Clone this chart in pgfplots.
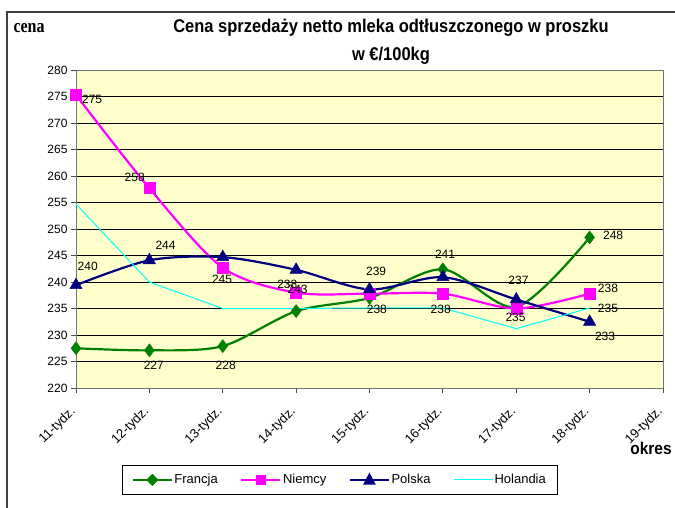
\documentclass[border=0pt]{standalone}
\usepackage{pgfplots}
\pgfplotsset{compat=1.18}
\usepackage{fontspec}
\setmainfont{Liberation Sans}
\newfontfamily\serifb{Liberation Serif}
\definecolor{plotbg}{HTML}{FFFFCC}
\definecolor{fr}{HTML}{008000}
\definecolor{de}{HTML}{FF00FF}
\definecolor{pl}{HTML}{000080}
\definecolor{nl}{HTML}{00FFFF}
\pgfplotstableread{
x y
0 227.5
1 227.1
2 227.9
3 234.5
4 237.0
5 242.4
6 235.3
7 248.4
}\francja
\pgfplotstableread{
x y
0 275.3
1 257.7
2 242.7
3 238.0
4 237.8
5 237.8
6 235.0
7 237.8
}\niemcy
\pgfplotstableread{
x y
0 239.4
1 244.1
2 244.7
3 242.3
4 238.6
5 240.9
6 236.7
7 232.5
}\polska
\pgfplotstableread{
x y
0 254.7
1 240.0
2 235.0
3 235.0
4 235.1
5 235.1
6 231.2
7 235.1
}\holandia
\pgfplotstableread{
x y l
0.22 274.4 275
0.80 259.7 258
0.16 243.0 240
1.22 246.9 244
1.99 240.5 245
2.88 239.6 238
3.02 238.6 243
1.06 224.3 227
2.04 224.3 228
4.09 242.1 239
4.10 234.9 238
5.03 245.2 241
4.97 234.9 238
6.03 240.4 237
5.99 233.3 235
7.32 248.8 248
7.25 238.8 238
7.25 235.0 235
7.21 229.8 233
}\labels
\begin{document}
\begin{tikzpicture}
\useasboundingbox (0pt,0pt) rectangle (675pt,-507pt);
\fill[white] (0pt,0pt) rectangle (675pt,-507pt);
\draw[line width=1.8pt, black!75] (7pt,-510pt) -- (7pt,-12pt) -- (680pt,-12pt);
\begin{axis}[
  at={(76pt,-388pt)}, anchor=south west,
  scale only axis, width=587pt, height=318pt,
  xmin=0, xmax=8, ymin=220, ymax=280,
  xtick={0,...,8},
  xticklabels={11-tydz.,12-tydz.,13-tydz.,14-tydz.,15-tydz.,16-tydz.,17-tydz.,18-tydz.,19-tydz.},
  ytick={220,225,...,280},
  xtick pos=left, ytick pos=left,
  tick align=outside,
  major tick length=5pt,
  tick style={black!70, line width=0.8pt},
  axis line style={black!55, line width=1pt},
  ymajorgrids,
  major grid style={black, line width=0.7pt},
  axis background/.style={fill=plotbg},
  /pgf/number format/assume math mode=true,
  y tick label style={font=\fontsize{12}{12}\selectfont},
  xticklabel shift=14pt,
  x tick label style={font=\fontsize{13}{13}\selectfont, rotate=45, anchor=east},
  clip=false,
  legend style={at={(0.449,-0.289)}, anchor=center, legend columns=4, draw=black,
    font=\fontsize{13}{15}\selectfont, inner xsep=10pt, inner ysep=7pt,
    nodes={inner xsep=1.5pt, inner ysep=2pt},
    /tikz/every even column/.append style={column sep=21pt}},
]
\addplot[fr, line width=2.2pt, smooth, tension=0.5, mark=diamond*, mark size=6.5pt, mark options={solid, line width=0.5pt},
  legend image code/.code={\draw[fr, line width=2.2pt] (0pt,0pt) -- (39pt,0pt); \fill[fr] (15pt,0pt) -- (19.5pt,4.5pt) -- (24pt,0pt) -- (19.5pt,-4.5pt) -- cycle;}] table {\francja};
\addlegendentry{Francja}
\addplot[de, line width=2.2pt, smooth, tension=0.5, mark=square*, mark size=5.5pt, mark options={solid, line width=0.5pt},
  legend image code/.code={\draw[de, line width=2.2pt] (0pt,0pt) -- (39pt,0pt); \fill[de] (15.5pt,-4pt) rectangle (23.5pt,4pt);}] table {\niemcy};
\addlegendentry{Niemcy}
\addplot[pl, line width=2.2pt, smooth, tension=0.5, mark=triangle*, mark size=7pt, mark options={solid, line width=0.5pt},
  legend image code/.code={\draw[pl, line width=2.2pt] (0pt,0pt) -- (39pt,0pt); \fill[pl] (15pt,-3.5pt) -- (19.5pt,5pt) -- (24pt,-3.5pt) -- cycle;}] table {\polska};
\addlegendentry{Polska}
\addplot[nl, line width=1pt, mark=none,
  legend image code/.code={\draw[nl, line width=1pt] (0pt,0pt) -- (39pt,0pt);}] table {\holandia};
\addlegendentry{Holandia}
\addplot[draw=none, mark=none, forget plot, nodes near coords, point meta=explicit symbolic,
  nodes near coords style={anchor=center, font=\fontsize{12}{12}\selectfont, inner sep=0pt, black}]
  table[meta=l] {\labels};
\end{axis}
\node[font=\fontsize{16.5}{18}\selectfont\bfseries, yscale=1.12, transform shape] at (391pt,-28pt) {Cena sprzedaży netto mleka odtłuszczonego w proszku};
\node[font=\fontsize{16.5}{18}\selectfont\bfseries, yscale=1.12, transform shape] at (391pt,-56pt) {w €/100kg};
\node[font=\fontsize{16}{18}\selectfont\serifb\bfseries, anchor=west, yscale=1.2, transform shape] at (10pt,-28pt) {cena};
\node[font=\fontsize{15.5}{17}\selectfont\bfseries, yscale=1.1, transform shape] at (651pt,-448pt) {okres};
\end{tikzpicture}
\end{document}
